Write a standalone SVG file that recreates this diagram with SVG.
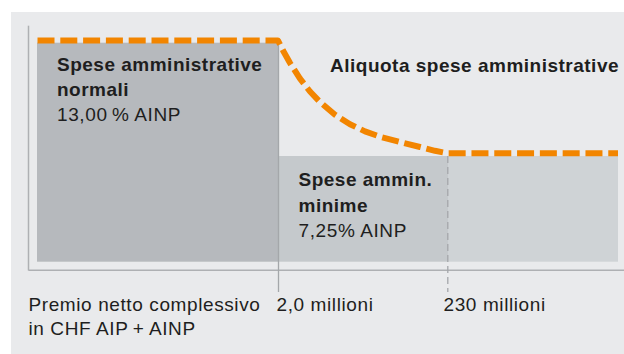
<svg xmlns="http://www.w3.org/2000/svg" width="624" height="354" viewBox="0 0 624 354">
  <style>
    .b { font-family: "Liberation Sans", Arial, sans-serif; font-weight: bold; font-size: 19px; letter-spacing: 0.5px; fill: #1e1e20; }
    .r { font-family: "Liberation Sans", Arial, sans-serif; font-size: 19px; letter-spacing: 0.6px; fill: #1e1e20; }
    .axis { stroke: #aeb0b3; stroke-width: 1.5; fill: none; }
    .guide { stroke: #a4a7aa; stroke-width: 1.3; fill: none; }
    .guide-dash { stroke: #a4a7aa; stroke-width: 1.3; fill: none; stroke-dasharray: 7 4; }
    .rate { stroke: #f28500; stroke-width: 6; fill: none; stroke-dasharray: 17 5.8; stroke-linejoin: round; }
  </style>
  <rect x="0" y="0" width="624" height="354" fill="#ffffff"/>
  <rect id="panel" x="11" y="12" width="613" height="342" fill="#e9eaec"/>

  <g id="bar-normal">
    <rect x="37" y="42.7" width="241.5" height="219" fill="#b6b9bd"/>
    <text class="b" x="57" y="70.7">Spese amministrative</text>
    <text class="b" x="57" y="95.6">normali</text>
    <text class="r" x="57" y="120.6">13,00&#8201;% AINP</text>
  </g>

  <g id="bar-minimum">
    <rect x="278.5" y="156" width="169.5" height="105.7" fill="#c5c9cc"/>
    <rect x="448" y="156" width="170" height="105.7" fill="#cfd3d6"/>
    <text class="b" x="298.5" y="186">Spese ammin.</text>
    <text class="b" x="298.5" y="211.6">minime</text>
    <text class="r" x="298.5" y="236.6">7,25% AINP</text>
  </g>

  <g id="axes">
    <line class="axis" x1="28.5" y1="25.7" x2="28.5" y2="270.5"/>
    <line class="axis" x1="28.5" y1="270.3" x2="624" y2="270.3"/>
    <text class="r" x="28.5" y="311">Premio netto complessivo</text>
    <text class="r" x="28.5" y="335">in CHF AIP&#8201;+&#8201;AINP</text>
  </g>

  <g id="threshold-2">
    <line class="guide" x1="278.5" y1="42.7" x2="278.5" y2="292"/>
    <text class="r" x="276.5" y="311">2,0 millioni</text>
  </g>

  <g id="threshold-230">
    <line class="guide-dash" x1="447.8" y1="156" x2="447.8" y2="292"/>
    <text class="r" x="443.5" y="311">230 millioni</text>
  </g>

  <g id="connectors">
    <path class="rate" d="M37.5,40.5 H278 L283,50.5 L290,63 L300,78.6 L310,91.5 L320,102 L335,114.7 L350,124.2 L365,131.4 L380,136.7 L400,142 L420,147 L435,150.8 L448,153.3 H618"/>
  </g>

  <g id="rate-label">
    <text class="b" x="330" y="72.3">Aliquota spese amministrative</text>
  </g>
</svg>
